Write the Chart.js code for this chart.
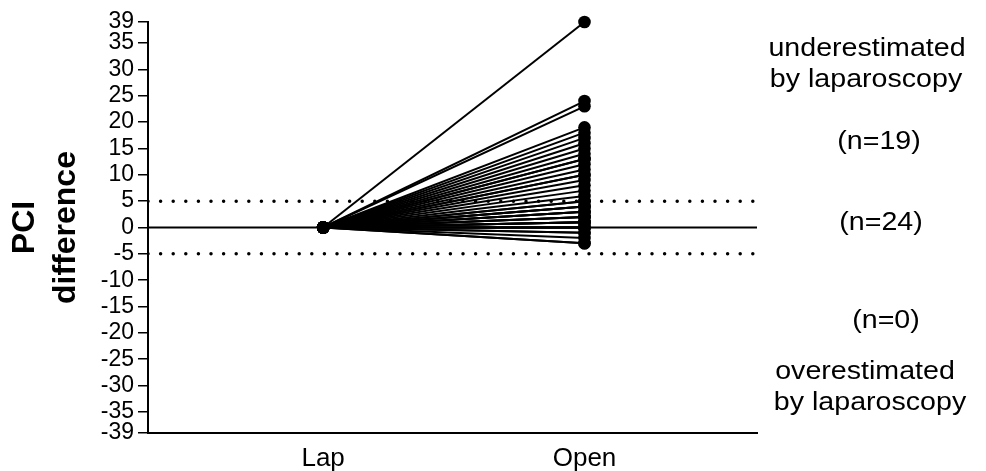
<!DOCTYPE html>
<html>
<head>
<meta charset="utf-8">
<script src="https://cdn.jsdelivr.net/npm/chart.js@4"></script>
<style>
  html, body { margin: 0; padding: 0; background: #fff; }
  #wrap { width: 986px; height: 471px; }
</style>
</head>
<body>
<div id="wrap"><canvas id="myChart" width="986" height="471"></canvas></div>
<script>
// categories on the x axis
const categories = ['Lap', 'Open'];
// PCI difference per patient (Lap is the reference, always 0)
const lapValues = new Array(43).fill(0);
const openValues = [39, 24, 23, 19, 18, 17, 16, 15, 14, 13, 13, 12, 11, 10, 10, 9, 8, 7, 6,
  5, 5, 4, 4, 4, 3, 3, 3, 2, 2, 2, 1, 1, 1, 1, 0, 0, 0, 0, -1, -1, -2, -3, -3];
// y tick labels
const yTicks = [-39, -35, -30, -25, -20, -15, -10, -5, 0, 5, 10, 15, 20, 25, 30, 35, 39];
// threshold lines
const limits = [5, -5];
// right-side notes
const notes = ['underestimated', 'by laparoscopy', '(n=19)', '(n=24)', '(n=0)', 'overestimated', 'by laparoscopy'];

const xMin = -0.67, xMax = 1.66;
const FONT = "'Liberation Sans', Arial, sans-serif";

const datasets = [];
// solid zero line + dotted limits first so patients draw over them
datasets.push({
  data: [{ x: xMin, y: 0 }, { x: xMax, y: 0 }],
  borderColor: '#000', borderWidth: 2, pointRadius: 0, order: 3
});
limits.forEach(v => {
  datasets.push({
    data: [{ x: xMin, y: v }, { x: xMax, y: v }],
    borderColor: '#000', borderWidth: 3.5, borderDash: [0, 12.6],
    borderCapStyle: 'round', pointRadius: 0, order: 2
  });
});
// one line per patient
openValues.forEach((v, i) => {
  datasets.push({
    data: [{ x: 0, y: lapValues[i] }, { x: 1, y: v }],
    borderColor: '#000', borderWidth: 2, clip: false,
    pointRadius: 6.3, pointBackgroundColor: '#000', pointBorderWidth: 0,
    order: 1
  });
});

// side text, placed by y value
const notePos = [
  { x: 867, y: 34 }, { x: 866, y: 28.1 }, { x: 879, y: 16.3 }, { x: 881, y: 0.8 },
  { x: 886, y: -17.8 }, { x: 865, y: -27.3 }, { x: 870, y: -33.3 }
];
const sideNotes = {
  id: 'sideNotes',
  afterDraw(chart) {
    const c = chart.ctx, ys = chart.scales.y;
    c.save();
    c.fillStyle = '#000';
    c.font = '26px ' + FONT;
    c.textAlign = 'center';
    c.textBaseline = 'middle';
    notes.forEach((t, i) => {
      c.save();
      c.translate(notePos[i].x, ys.getPixelForValue(notePos[i].y));
      c.scale(1.1, 1);
      c.fillText(t, 0, 0);
      c.restore();
    });
    c.restore();
  }
};

new Chart(document.getElementById('myChart').getContext('2d'), {
  type: 'line',
  data: { datasets: datasets },
  options: {
    responsive: false,
    animation: false,
    layout: { padding: { left: 0, right: 229, top: 22, bottom: 0 } },
    plugins: { legend: { display: false }, tooltip: { enabled: false } },
    scales: {
      x: {
        type: 'linear', min: xMin, max: xMax,
        afterBuildTicks: s => { s.ticks = [{ value: 0 }, { value: 1 }]; },
        afterFit: s => { s.height = 38; },
        grid: { display: false },
        border: { display: true, color: '#000', width: 2 },
        ticks: {
          color: '#000', font: { family: FONT, size: 26 }, padding: 2,
          maxRotation: 0, autoSkip: false,
          callback: v => categories[v]
        }
      },
      y: {
        min: -39, max: 39,
        afterBuildTicks: s => { s.ticks = yTicks.map(v => ({ value: v })); },
        afterFit: s => { s.width = 148; },
        grid: { drawOnChartArea: false, drawTicks: true, tickLength: 10, color: '#000', lineWidth: 1.5 },
        border: { display: true, color: '#000', width: 2 },
        ticks: { color: '#000', font: { family: FONT, size: 23 }, padding: 4, autoSkip: false },
        title: {
          display: true, text: ['PCI', 'difference'], color: '#000',
          font: { family: FONT, size: 32, weight: 'bold', lineHeight: 1.3 }, padding: { top: 4, bottom: 0 }
        }
      }
    }
  },
  plugins: [sideNotes]
});
</script>
</body>
</html>
